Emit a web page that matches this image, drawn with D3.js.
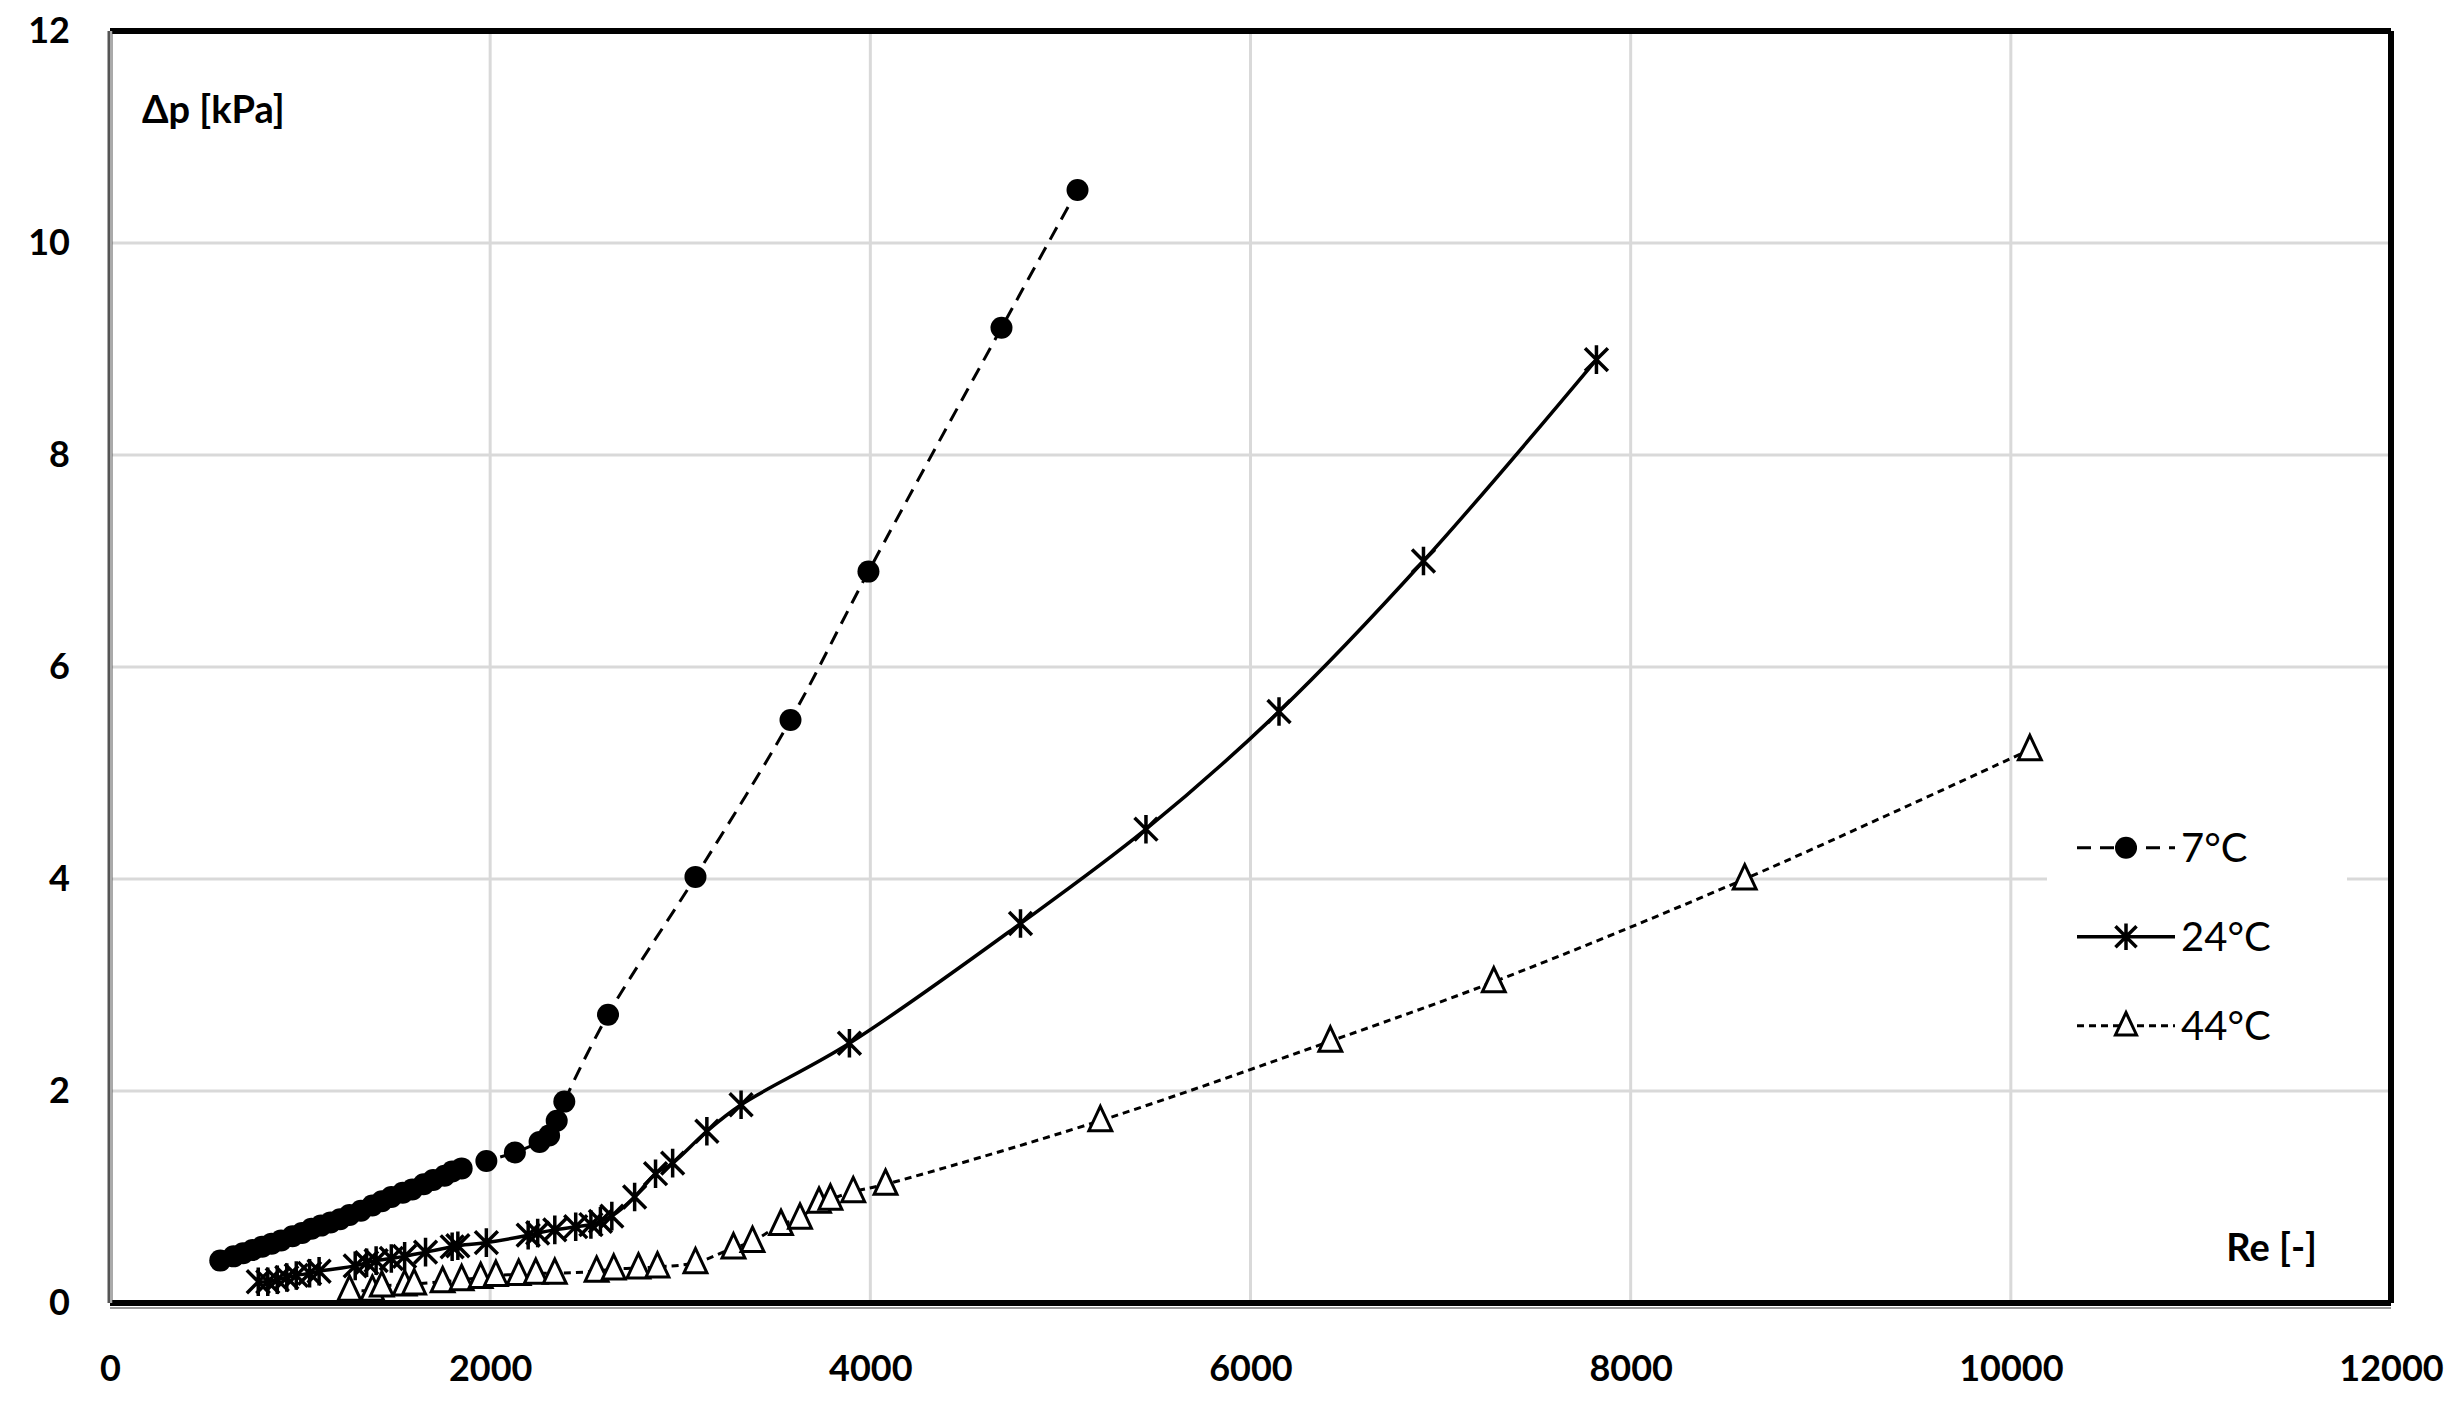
<!DOCTYPE html>
<html lang="en">
<head>
<meta charset="UTF-8">
<script src="https://d3js.org/d3.v7.min.js"></script>
<style>
  body { margin: 0; background: #fff; }
  svg { display: block; font-family: Lato, "Open Sans", sans-serif; }
</style>
</head>
<body>
<svg id="chart"></svg>
<script>
// 7°C
const re7 = [580,650,700,750,800,850,900,960,1010,1060,1110,1160,1210,1260,1320,1380,1430,1480,1540,1590,1650,1700,1760,1800,1850,1980,2130,2260,2310,2350,2390,2620,3080,3580,3990,4690,5090];
const dp7 = [0.40,0.44,0.47,0.50,0.53,0.56,0.59,0.63,0.66,0.70,0.73,0.76,0.79,0.83,0.87,0.92,0.96,1.00,1.04,1.07,1.12,1.16,1.20,1.24,1.27,1.34,1.42,1.52,1.58,1.72,1.90,2.72,4.02,5.50,6.90,9.20,10.50];
// 24°C
const re24 = [780,830,880,930,980,1050,1100,1290,1350,1400,1480,1550,1660,1800,1830,1980,2200,2250,2340,2450,2530,2580,2640,2760,2870,2960,3140,3320,3890,4790,5450,6150,6910,7820];
const dp24 = [0.20,0.20,0.22,0.24,0.26,0.28,0.30,0.35,0.38,0.40,0.42,0.44,0.48,0.53,0.54,0.57,0.64,0.66,0.69,0.72,0.74,0.77,0.82,1.00,1.22,1.32,1.62,1.87,2.45,3.58,4.47,5.58,7.00,8.90];
// 44°C
const re44 = [1260,1380,1430,1550,1600,1750,1850,1950,2030,2150,2240,2340,2560,2650,2780,2880,3080,3280,3380,3530,3630,3730,3790,3910,4080,5210,6420,7280,8600,10100];
const dp44 = [0.12,0.12,0.16,0.17,0.18,0.20,0.22,0.24,0.26,0.27,0.28,0.28,0.30,0.32,0.33,0.34,0.38,0.52,0.58,0.74,0.80,0.95,0.98,1.05,1.12,1.72,2.47,3.03,4.00,5.22];

const seriesNames = ["7°C", "24°C", "44°C"];
const xTicks = [0, 2000, 4000, 6000, 8000, 10000, 12000];
const yTicks = [0, 2, 4, 6, 8, 10, 12];

const width = 2456, height = 1415;
const margin = { top: 31, right: 65, bottom: 112, left: 110 };
const W = width - margin.left - margin.right;
const H = height - margin.top - margin.bottom;

const svg = d3.select("#chart").attr("width", width).attr("height", height);
const g = svg.append("g").attr("transform", `translate(${margin.left},${margin.top})`);

const x = d3.scaleLinear().domain([0, 12000]).range([0, W]);
const y = d3.scaleLinear().domain([0, 12]).range([H, 0]);

// grid
g.selectAll(".gx").data(xTicks.slice(1, -1)).enter().append("line")
  .attr("x1", d => x(d)).attr("x2", d => x(d)).attr("y1", 0).attr("y2", H)
  .attr("stroke", "#d9d9d9").attr("stroke-width", 3);
g.selectAll(".gy").data(yTicks.slice(1, -1)).enter().append("line")
  .attr("y1", d => y(d)).attr("y2", d => y(d)).attr("x1", 0).attr("x2", W)
  .attr("stroke", "#d9d9d9").attr("stroke-width", 3);

// tick labels via axes
const xAxis = g.append("g").attr("transform", `translate(0,${H})`)
  .call(d3.axisBottom(x).tickValues(xTicks).tickSize(0).tickPadding(52).tickFormat(d3.format("d")));
const yAxis = g.append("g")
  .call(d3.axisLeft(y).tickValues(yTicks).tickSize(0).tickPadding(40));
[xAxis, yAxis].forEach(a => {
  a.select(".domain").remove();
  a.selectAll("text").attr("font-size", 36).attr("font-weight", "bold").attr("fill", "#000")
    .attr("font-family", "Lato, sans-serif");
});

// frame
g.append("line").attr("x1", 0).attr("x2", W).attr("y1", 0).attr("y2", 0).attr("stroke", "#000").attr("stroke-width", 6);
g.append("line").attr("x1", W).attr("x2", W).attr("y1", 0).attr("y2", H).attr("stroke", "#000").attr("stroke-width", 6);
g.append("line").attr("x1", 0).attr("x2", W).attr("y1", H).attr("y2", H).attr("stroke", "#000").attr("stroke-width", 6);
g.append("line").attr("x1", 0).attr("x2", W).attr("y1", H + 5).attr("y2", H + 5).attr("stroke", "#999").attr("stroke-width", 2);
g.append("line").attr("x1", 0).attr("x2", 0).attr("y1", 0).attr("y2", H).attr("stroke", "#555").attr("stroke-width", 5);
g.append("line").attr("x1", 1).attr("x2", 1).attr("y1", 0).attr("y2", H).attr("stroke", "#aaa").attr("stroke-width", 2);

const series = [
  { name: seriesNames[0], re: re7, dp: dp7, dash: "14,9", width: 3, marker: "circle" },
  { name: seriesNames[1], re: re24, dp: dp24, dash: null, width: 3.5, marker: "star" },
  { name: seriesNames[2], re: re44, dp: dp44, dash: "7,5", width: 3, marker: "tri" }
];

const line = d3.line().x(d => x(d[0])).y(d => y(d[1])).curve(d3.curveCatmullRom);

function marker(sel, type, size) {
  if (type === "circle") {
    sel.append("circle").attr("r", size * 0.5).attr("fill", "#000");
  } else if (type === "star") {
    const r = size * 0.55;
    sel.append("path")
      .attr("d", `M0,${-r}V${r}M${-r * 0.8},${-r * 0.8}L${r * 0.8},${r * 0.8}M${r * 0.8},${-r * 0.8}L${-r * 0.8},${r * 0.8}`)
      .attr("stroke", "#000").attr("stroke-width", 3.5).attr("fill", "none");
  } else {
    const r = size * 0.55;
    sel.append("path").attr("d", `M0,${-r}L${r * 0.8},${r * 0.7}L${-r * 0.8},${r * 0.7}Z`)
      .attr("stroke", "#000").attr("stroke-width", 3).attr("fill", "#fff");
  }
}

series.forEach(s => {
  const pts = s.re.map((r, i) => [r, s.dp[i]]);
  g.append("path").datum(pts).attr("d", line).attr("fill", "none")
    .attr("stroke", "#000").attr("stroke-width", s.width)
    .attr("stroke-dasharray", s.dash);
  g.selectAll(null).data(pts).enter().append("g")
    .attr("transform", d => `translate(${x(d[0])},${y(d[1])})`)
    .each(function () { marker(d3.select(this), s.marker, s.marker === "circle" ? 22 : 26); });
});

// axis titles
g.append("text").attr("x", 32).attr("y", 92).attr("font-size", 38).attr("font-weight", "bold").text("Δp [kPa]");
g.append("text").attr("x", W - 74).attr("y", H - 42).attr("text-anchor", "end")
  .attr("font-size", 38).attr("font-weight", "bold").text("Re [-]");

// legend
const lg = g.append("g").attr("transform", `translate(${W - 344},${y(4.05) - 70})`);
lg.append("rect").attr("width", 300).attr("height", 252).attr("fill", "#fff");
series.forEach((s, i) => {
  const row = lg.append("g").attr("transform", `translate(0,${44 + i * 89})`);
  row.append("line").attr("x1", 30).attr("x2", 128).attr("stroke", "#000")
    .attr("stroke-width", s.width).attr("stroke-dasharray", s.dash);
  marker(row.append("g").attr("transform", "translate(79,0)"), s.marker, s.marker === "circle" ? 22 : 24);
  row.append("text").attr("x", 134).attr("y", 14).attr("font-size", 40).text(s.name);
});
</script>
</body>
</html>
